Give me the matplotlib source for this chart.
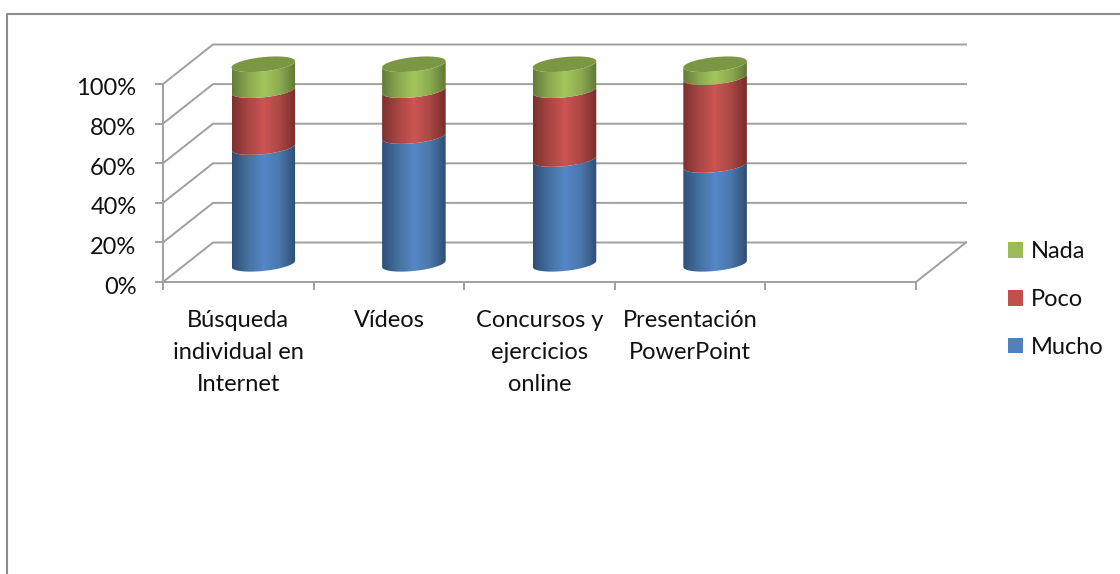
#!/usr/bin/env python3
"""Columnas cilindricas apiladas al 100% con pared y suelo en perspectiva"""

import numpy as np
import matplotlib
matplotlib.use('Agg')
import matplotlib.pyplot as plt
from matplotlib.colors import LinearSegmentedColormap
from matplotlib.lines import Line2D
from matplotlib.patches import Patch, Polygon
from matplotlib.transforms import ScaledTranslation

plt.rcParams['font.family'] = ['Lato', 'DejaVu Sans']

categories = ['Búsqueda\nindividual en\nInternet', 'Vídeos',
              'Concursos y\nejercicios\nonline', 'Presentación\nPowerPoint', '']
mucho = [58.5, 64, 52.5, 49.5]
poco = [28.5, 23, 34.5, 44]
nada = [13, 13, 13, 6.5]
y_ticks = [0, 20, 40, 60, 80, 100]
y_labels = ['0%', '20%', '40%', '60%', '80%', '100%']

W, H = 1120, 574
GRAY = '#a0a0a0'
TEXT = '#111111'
FONT = 17

# perspectiva en unidades de datos
DX = 50 / 150.6
DY = 39.5 / 1.98
BAR_A = 0.211
BAR_B = 3.6
BAR_SKEW = 1.6
BAR_FLOOR = 0.46 * DY
BAR_SCALE = 1.008

series = [
    ('Mucho', mucho, '#4f81bd', ['#2f4f78', '#45719f', '#5587c8', '#4b77ac', '#2f4e74']),
    ('Poco', poco, '#c0504d', ['#7d302e', '#a84644', '#cb5552', '#ab4745', '#782d2b']),
    ('Nada', nada, '#9bbb59', ['#627d38', '#8aa84f', '#a3c75d', '#8dab51', '#5f7835']),
]

fig = plt.figure(figsize=(W / 100, H / 100), dpi=100)
ax = fig.add_axes([163 / W, 1 - 282 / H, 753 / W, 198 / H])
ax.set_xlim(0, 5)
ax.set_ylim(0, 100)
ax.patch.set_visible(False)

# borde exterior: solo arriba y a la izquierda
fig.add_artist(Line2D([6.5 / W, 6.5 / W, 1], [0, 1 - 13.5 / H, 1 - 13.5 / H],
                      color='#8c8c8c', lw=1.5))

# rejilla de la pared y suelo
for y in y_ticks:
    ax.plot([0, DX, 5 + DX], [y, y + DY, y + DY], color=GRAY, lw=1.4,
            clip_on=False, zorder=1, solid_joinstyle='miter')
ax.plot([5, 5 + DX], [0, DY], color=GRAY, lw=1.4, clip_on=False, zorder=1)

for side in ['top', 'right']:
    ax.spines[side].set_visible(False)
for side in ['left', 'bottom']:
    ax.spines[side].set_color(GRAY)
    ax.spines[side].set_linewidth(1.4)

ax.set_yticks(y_ticks)
ax.set_yticklabels(y_labels, fontsize=FONT, color=TEXT)
ax.set_xticks(range(6))
ax.set_xticklabels([])
ax.set_xticks(np.arange(5) + 0.5, labels=categories, minor=True)
ax.tick_params(axis='y', length=6, width=1.4, color=GRAY, pad=13)
ax.tick_params(axis='x', which='major', length=6, width=1.4, color=GRAY)
ax.tick_params(axis='x', which='minor', length=0, pad=20, labelsize=FONT, labelcolor=TEXT)
for label in ax.get_xticklabels(minor=True):
    label.set_linespacing(1.65)
# las etiquetas del eje y quedan un poco por debajo de la marca
shift = ScaledTranslation(0, -3 / 100, fig.dpi_scale_trans)
for label in ax.get_yticklabels():
    label.set_transform(label.get_transform() + shift)


def arc(cx, level, t):
    x = cx + BAR_A * np.cos(t)
    y = level + BAR_SKEW * np.cos(t) + BAR_B * np.sin(t)
    return np.column_stack([x, y])


t_front = np.linspace(np.pi, 2 * np.pi, 60)
t_full = np.linspace(0, 2 * np.pi, 120)

for i in range(len(mucho)):
    cx = i + 0.5 + DX / 2
    bottom = 0
    for name, values, base, stops in series:
        top = bottom + values[i]
        y0 = BAR_FLOOR + bottom * BAR_SCALE
        y1 = BAR_FLOOR + top * BAR_SCALE
        outline = np.vstack([arc(cx, y0, t_front), arc(cx, y1, t_front)[::-1]])
        clip = Polygon(outline, closed=True, facecolor='none', edgecolor='none',
                       clip_on=False, transform=ax.transData)
        ax.add_patch(clip)
        cmap = LinearSegmentedColormap.from_list(name, stops)
        im = ax.imshow(np.linspace(0, 1, 128)[None, :], cmap=cmap, aspect='auto',
                       extent=[cx - BAR_A, cx + BAR_A, y0 - 8, y1 + 8], zorder=3)
        im.set_clip_path(clip)
        im.set_clip_box(fig.bbox)
        bottom = top
    ax.add_patch(Polygon(arc(cx, BAR_FLOOR + bottom * BAR_SCALE, t_full), closed=True,
                         facecolor='#7b9744', edgecolor='none', clip_on=False, zorder=4))

ax.set_xlim(0, 5)
ax.set_ylim(0, 100)

handles = [Patch(facecolor=s[2], edgecolor='none') for s in reversed(series)]
labels = [s[0] for s in reversed(series)]
fig.legend(handles, labels, loc='center left', bbox_to_anchor=(1008 / W, 1 - 299.5 / H),
           frameon=False, fontsize=FONT, labelcolor=TEXT, handlelength=0.64, handleheight=0.64,
           handletextpad=0.34, labelspacing=1.135, borderpad=0, borderaxespad=0)

fig.savefig('out.png', dpi=100)
